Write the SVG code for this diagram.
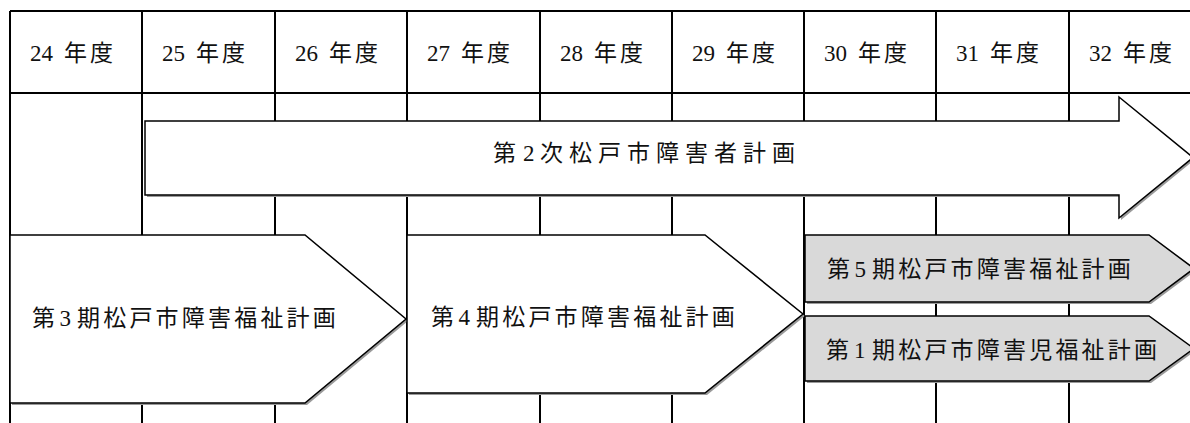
<svg xmlns="http://www.w3.org/2000/svg" width="1190" height="423" viewBox="0 0 1190 423">
<style>
.grid{stroke:#000;stroke-width:2;fill:none}
.shape{stroke:#000;stroke-width:1.5;stroke-linejoin:miter}
.shadow{fill:#9a9a9a;stroke:none}
.white{fill:#fff}
.grey{fill:#d9d9d9}
text{font-family:"Liberation Serif","Noto Sans CJK JP",serif;font-size:23px;fill:#111}
.h{letter-spacing:3px}
.s3{letter-spacing:3.2px}
.s6{letter-spacing:6px}
</style>
<rect width="1190" height="423" fill="#fff"/>
<g id="grid">
<path class="grid" d="M10,11H1190M10,93H1190M10,11V423M142,11V423M275,11V423M407,11V423M540,11V423M672,11V423M804,11V423M936,11V423M1069,11V423"/>
<g id="headers">
<text x="30" y="61">24<tspan class="h" x="64">年度</tspan></text>
<text x="162" y="61">25<tspan class="h" x="196">年度</tspan></text>
<text x="295" y="61">26<tspan class="h" x="329">年度</tspan></text>
<text x="427" y="61">27<tspan class="h" x="461">年度</tspan></text>
<text x="560" y="61">28<tspan class="h" x="594">年度</tspan></text>
<text x="692" y="61">29<tspan class="h" x="726">年度</tspan></text>
<text x="824" y="61">30<tspan class="h" x="858">年度</tspan></text>
<text x="956" y="61">31<tspan class="h" x="990">年度</tspan></text>
<text x="1089" y="61">32<tspan class="h" x="1123">年度</tspan></text>
</g>
</g>
<g id="connectors"></g>
<g id="plan2">
<polygon class="shadow" transform="translate(2,2)" points="145,121 1119,121 1119,97 1193,157.5 1119,218 1119,195 145,195"/>
<polygon class="shape white" points="145,121 1119,121 1119,97 1193,157.5 1119,218 1119,195 145,195"/>
<text x="493" y="160.5">第<tspan x="523">2</tspan><tspan class="s6" x="540">次松戸市障害者計画</tspan></text>
</g>
<g id="welfare3">
<polygon class="shadow" transform="translate(2,2)" points="10,235 305,235 406,319 305,403 10,403"/>
<polygon class="shape white" points="10,235 305,235 406,319 305,403 10,403"/>
<text x="32" y="325.5">第<tspan x="59.5">3</tspan><tspan class="s3" x="77">期松戸市障害福祉計画</tspan></text>
</g>
<g id="welfare4">
<polygon class="shadow" transform="translate(2,2)" points="407,235 705,235 803,314 705,393 407,393"/>
<polygon class="shape white" points="407,235 705,235 803,314 705,393 407,393"/>
<text x="431" y="325">第<tspan x="458.5">4</tspan><tspan class="s3" x="476">期松戸市障害福祉計画</tspan></text>
</g>
<g id="welfare5">
<polygon class="shadow" transform="translate(2,2)" points="805,235 1149,235 1194,268.5 1149,302 805,302"/>
<polygon class="shape grey" points="805,235 1149,235 1194,268.5 1149,302 805,302"/>
<text x="827" y="276.5">第<tspan x="854.5">5</tspan><tspan class="s3" x="872">期松戸市障害福祉計画</tspan></text>
</g>
<g id="child1">
<polygon class="shadow" transform="translate(2,2)" points="805,316 1149,316 1194,348.5 1149,381 805,381"/>
<polygon class="shape grey" points="805,316 1149,316 1194,348.5 1149,381 805,381"/>
<text x="826" y="358">第<tspan x="854">1</tspan><tspan class="s3" x="872">期松戸市障害児福祉計画</tspan></text>
</g>
</svg>
